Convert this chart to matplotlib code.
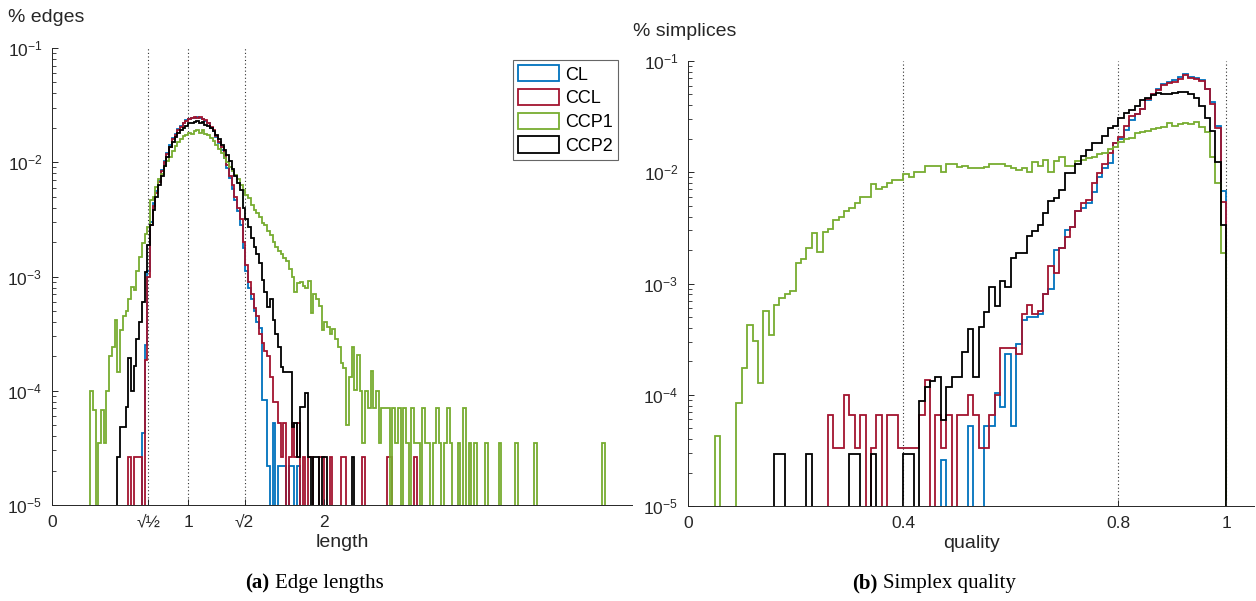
import numpy as np
import matplotlib
matplotlib.use("Agg")
import matplotlib.pyplot as plt
import matplotlib.patches as mpatches
from matplotlib.ticker import LogLocator, NullFormatter, FixedLocator, FixedFormatter

plt.rcParams['font.family'] = ['Liberation Sans', 'DejaVu Sans']

# empty bin (no count) in the log10 lists below
E = -np.inf

# ---- (a) edge lengths: log10(% edges) per bin, bin width 0.02 ----
len_width = 0.02
cl_len_start = 0.66
cl_len = [-4.37, -3.60, -2.95, -2.52, -2.36, -2.25, -2.16, -2.07, -1.99, -1.92,
          -1.85, -1.79, -1.75, -1.71, -1.68, -1.66, -1.63, -1.62, -1.61, -1.61,
          -1.60, -1.61, -1.62, -1.64, -1.66, -1.70, -1.73, -1.78, -1.83, -1.89,
          -1.96, -2.05, -2.14, -2.23, -2.33, -2.43, -2.55, -2.75, -2.95, -3.10,
          -3.20, -3.30, -3.40, -3.45, -4.08, -4.08, -4.66, E, -4.28, E,
          -4.66, -4.66, -4.66, E, -4.66, -4.66, E, -4.66]

ccl_len_start = 0.56
ccl_len = [-4.58, E, -4.58, -4.58, -4.58, E, -3.73, -3.00, -2.55, -2.38,
           -2.27, -2.17, -2.08, -2.00, -1.93, -1.87, -1.80, -1.76, -1.72, -1.69,
           -1.66, -1.64, -1.62, -1.61, -1.60, -1.61, -1.60, -1.62, -1.63, -1.66,
           -1.69, -1.72, -1.77, -1.82, -1.87, -1.94, -2.02, -2.12, -2.20, -2.30,
           -2.40, -2.50, -2.70, -2.90, -3.05, -3.15, -3.28, -3.35, -3.50, -3.58,
           -3.65, -3.70, -3.88, -4.10, -4.10, -4.28, -4.58, -4.28, E, -4.58,
           -4.28, -4.58, -4.28, E, -4.58, E, -4.58, -4.58, E, E,
           -4.58, -4.58, E, E, -4.58, E, E, E, -4.58, -4.58,
           E, E, E, E, E, E, -4.58, E, E, E,
           E, E, E, E, E, -4.58, -4.58, E, E, E,
           E, E, E, E, E, -4.58]

ccp1_len_start = 0.28
ccp1_len = [-4.00, -4.17, E, -4.46, -4.17, -4.46, -4.00, -3.70, -3.62, -3.38,
            -3.84, -3.47, -3.35, -3.30, -3.20, -3.09, -3.12, -2.95, -2.83, -2.71,
            -2.63, -2.57, -2.33, -2.30, -2.22, -2.15, -2.10, -2.03, -1.99, -1.95,
            -1.90, -1.86, -1.82, -1.80, -1.77, -1.76, -1.74, -1.75, -1.73, -1.72,
            -1.74, -1.72, -1.75, -1.76, -1.79, -1.81, -1.85, -1.88, -1.92, -1.96,
            -2.00, -2.04, -2.08, -2.11, -2.15, -2.20, -2.24, -2.29, -2.31, -2.37,
            -2.42, -2.44, -2.48, -2.53, -2.55, -2.60, -2.64, -2.70, -2.74, -2.78,
            -2.80, -2.84, -2.86, -2.93, -3.00, -3.14, -3.06, -3.05, -3.08, -3.10,
            -3.04, -3.32, -3.15, -3.20, -3.26, -3.47, -3.40, -3.44, -3.50, -3.46,
            -3.55, -3.62, -3.76, -3.80, -4.30, -3.88, -3.62, -3.99, -3.69, -4.00,
            -4.46, -4.00, -4.15, -3.83, -4.15, -4.00, -4.46, -4.15, -4.15, -4.15,
            E, -4.15, -4.46, -4.15, E, -4.15, -4.46, E, -4.15, -4.46,
            -4.46, E, -4.15, -4.46, -4.46, E, -4.46, -4.15, -4.46, E,
            -4.46, -4.15, -4.46, E, E, -4.46, E, -4.15, E, -4.46,
            E, -4.46, E, E, E, -4.46, E, E, E, E,
            -4.46, E, E, E, E, E, -4.46, E, E, E,
            E, E, E, -4.46, E, E, E, E, E, E,
            E, E, E, E, E, E, E, E, E, E,
            E, E, E, E, E, E, E, E, -4.46]

ccp2_len_start = 0.48
ccp2_len = [-4.58, -4.32, -4.32, -4.14, -3.71, -4.00, -3.78, -3.55, -3.40, -3.22,
            -2.96, -2.72, -2.55, -2.42, -2.30, -2.20, -2.12, -2.03, -1.95, -1.87,
            -1.82, -1.78, -1.74, -1.72, -1.70, -1.68, -1.66, -1.66, -1.65, -1.64,
            -1.66, -1.65, -1.67, -1.68, -1.70, -1.73, -1.76, -1.80, -1.85, -1.89,
            -1.94, -1.99, -2.06, -2.12, -2.18, -2.24, -2.40, -2.50, -2.57, -2.66,
            -2.74, -2.80, -2.88, -3.03, -3.14, -3.27, -3.20, -3.38, -3.50, -3.62,
            -3.79, -3.84, -3.84, -3.84, -4.32, -4.28, -4.58, -4.14, -4.14, -4.02,
            -4.58, E, -4.58, -4.58, E, -4.58, -4.58, E, E, E,
            E, E, E, E, E, E, -4.58]

# ---- (b) simplex quality: log10(% simplices) per bin, bin width 0.01 ----
q_width = 0.01
cl_q_start = 0.47
cl_q = [-4.59, E, E, E, E, -4.28, E, E, -4.28, -4.28,
        -3.98, -4.11, -3.63, -4.28, -3.54, -3.33, -3.30, -3.30, -3.27, -3.09,
        -3.05, -2.70, -2.68, -2.52, -2.49, -2.35, -2.32, -2.28, -2.18, -2.04,
        -1.96, -1.92, -1.74, -1.70, -1.62, -1.53, -1.48, -1.43, -1.35, -1.30,
        -1.25, -1.21, -1.19, -1.17, -1.14, -1.12, -1.14, -1.15, -1.17, -1.25,
        -1.37, -1.58, -2.17]

ccl_q_start = 0.26
ccl_q = [-4.18, -4.48, -4.48, -4.00, -4.18, -4.48, -4.18, E, -4.48, -4.18,
         E, -4.18, -4.18, -4.48, -4.48, -4.48, -4.48, -4.18, -3.87, E,
         -4.18, -4.48, -4.18, E, -4.18, -4.18, -4.00, -4.18, -4.48, -4.48,
         -4.18, -4.00, -3.58, -3.58, -3.58, -3.63, -3.27, -3.19, -3.27, -3.25,
         -3.09, -2.84, -2.91, -2.68, -2.58, -2.49, -2.35, -2.28, -2.25, -2.10,
         -2.01, -1.93, -1.83, -1.74, -1.68, -1.58, -1.49, -1.48, -1.43, -1.34,
         -1.30, -1.26, -1.22, -1.20, -1.19, -1.16, -1.13, -1.15, -1.16, -1.18,
         -1.25, -1.39, -1.60, -2.27]

ccp1_q_start = 0.05
ccp1_q = [-4.37, E, E, E, -4.07, -3.76, -3.37, -3.52, -3.89, -3.25,
          -3.46, -3.19, -3.13, -3.09, -3.07, -2.82, -2.78, -2.68, -2.55, -2.72,
          -2.54, -2.51, -2.43, -2.40, -2.35, -2.32, -2.28, -2.22, -2.22, -2.11,
          -2.15, -2.13, -2.10, -2.07, -2.07, -2.02, -2.04, -2.00, -2.00, -1.94,
          -1.94, -1.94, -2.00, -1.93, -1.93, -1.95, -1.94, -1.96, -1.96, -1.96,
          -1.95, -1.93, -1.93, -1.93, -1.94, -1.96, -1.98, -1.96, -2.00, -1.91,
          -1.94, -1.89, -2.00, -1.90, -1.86, -1.94, -1.94, -1.90, -1.89, -1.87,
          -1.86, -1.84, -1.83, -1.79, -1.77, -1.73, -1.70, -1.69, -1.65, -1.64,
          -1.63, -1.61, -1.60, -1.59, -1.56, -1.58, -1.57, -1.56, -1.57, -1.55,
          -1.59, -1.64, -1.86, -2.10, -2.73]

ccp2_q_start = 0.16
ccp2_q = [-4.53, -4.53, E, E, E, E, -4.53, E, E, E,
          E, E, E, E, -4.53, -4.53, E, E, -4.53, E,
          E, E, E, E, -4.53, -4.53, E, -4.06, -3.93, -3.88,
          -3.84, -4.23, -3.93, -3.84, -3.84, -3.62, -3.41, -3.84, -3.39, -3.26,
          -3.03, -3.20, -2.98, -3.03, -2.77, -2.73, -2.73, -2.57, -2.53, -2.47,
          -2.37, -2.26, -2.23, -2.16, -2.01, -2.01, -1.93, -1.85, -1.80, -1.74,
          -1.74, -1.67, -1.60, -1.58, -1.51, -1.47, -1.44, -1.40, -1.35, -1.33,
          -1.31, -1.29, -1.30, -1.30, -1.29, -1.28, -1.28, -1.30, -1.33, -1.40,
          -1.51, -1.63, -1.91, -2.47]

names = ['CL', 'CCL', 'CCP1', 'CCP2']
colors = ['#0072BD', '#A2142F', '#77AC30', '#000000']

len_series = [(cl_len_start, cl_len), (ccl_len_start, ccl_len),
              (ccp1_len_start, ccp1_len), (ccp2_len_start, ccp2_len)]
q_series = [(cl_q_start, cl_q), (ccl_q_start, ccl_q),
            (ccp1_q_start, ccp1_q), (ccp2_q_start, ccp2_q)]

len_ticks = [0, np.sqrt(0.5), 1, np.sqrt(2), 2]
len_ticklabels = ['0', '√½', '1', '√2', '2']
q_ticks = [0, 0.4, 0.8, 1]
q_ticklabels = ['0', '0.4', '0.8', '1']

axis_col = '#262626'
W, H = 1256, 601
fig = plt.figure(figsize=(W / 100, H / 100), dpi=100)
ax1 = fig.add_axes([52 / W, 1 - 505 / H, 580 / W, 457 / H])
ax2 = fig.add_axes([688 / W, 1 - 506 / H, 566 / W, 445 / H])


def draw_hist(ax, series, width):
    for (start, logv), c in zip(series, colors):
        vals = np.power(10.0, np.array(logv))
        edges = start + width * np.arange(len(vals) + 1)
        ax.stairs(vals, edges, baseline=0, color=c, linewidth=1.3)


def style_axes(ax, xlim, ticks, labels, guides):
    ax.set_yscale('log')
    ax.set_ylim(1e-5, 1e-1)
    ax.set_xlim(*xlim)
    for g in guides:
        ax.axvline(g, color='#303030', linestyle=(0, (1, 2.2)), linewidth=0.8, zorder=0)
    ax.xaxis.set_major_locator(FixedLocator(ticks))
    ax.xaxis.set_major_formatter(FixedFormatter(labels))
    ax.yaxis.set_major_locator(LogLocator(base=10, numticks=10))
    ax.yaxis.set_minor_locator(LogLocator(base=10, subs=np.arange(2, 10), numticks=20))
    ax.yaxis.set_minor_formatter(NullFormatter())
    for s in ['top', 'right']:
        ax.spines[s].set_visible(False)
    for s in ['left', 'bottom']:
        ax.spines[s].set_color(axis_col)
        ax.spines[s].set_linewidth(0.7)
    ax.tick_params(axis='both', which='major', direction='in', length=4.5,
                   width=0.7, color=axis_col, labelcolor=axis_col, labelsize=12.5)
    ax.tick_params(axis='y', which='minor', direction='in', length=3, width=0.6, color=axis_col)
    ax.tick_params(axis='y', which='major', pad=7)
    ax.tick_params(axis='x', which='major', pad=7)


draw_hist(ax1, len_series, len_width)
style_axes(ax1, (0, 4.26), len_ticks, len_ticklabels, [np.sqrt(0.5), 1, np.sqrt(2)])
draw_hist(ax2, q_series, q_width)
style_axes(ax2, (0, 1.052), q_ticks, q_ticklabels, [0.4, 0.8, 1])

ax1.set_xlabel('length', fontsize=14, color=axis_col, labelpad=3)
ax2.set_xlabel('quality', fontsize=14, color=axis_col, labelpad=3)
fig.text(8 / W, 1 - 18 / H, '% edges', fontsize=14, color=axis_col, ha='left', va='center')
fig.text(633 / W, 1 - 32 / H, '% simplices', fontsize=14, color=axis_col, ha='left', va='center')

handles = [mpatches.Patch(facecolor='none', edgecolor=c, linewidth=1.3, label=n)
           for n, c in zip(names, colors)]
leg = ax1.legend(handles=handles, loc='upper right', bbox_to_anchor=(0.976, 0.974),
                 borderaxespad=0, fontsize=13, frameon=True, fancybox=False,
                 handlelength=2.3, handleheight=1.0, handletextpad=0.3,
                 labelspacing=0.3, borderpad=0.3)
leg.get_frame().set_edgecolor('#404040')
leg.get_frame().set_linewidth(0.8)

# captions below the panels
for left_px, tag, rest in [(245, '(a)', 'Edge lengths'), (852, '(b)', 'Simplex quality')]:
    t = fig.text(left_px / W, 1 - 583 / H, tag, fontsize=15, fontweight='bold',
                 family='Liberation Serif', ha='left', va='center')
    ax1.annotate(rest, xy=(1, 0), xycoords=t, xytext=(4, 0), textcoords='offset points',
                 fontsize=15, family='Liberation Serif', ha='left', va='bottom',
                 annotation_clip=False)

fig.savefig('out.png', dpi=100, facecolor='white')
